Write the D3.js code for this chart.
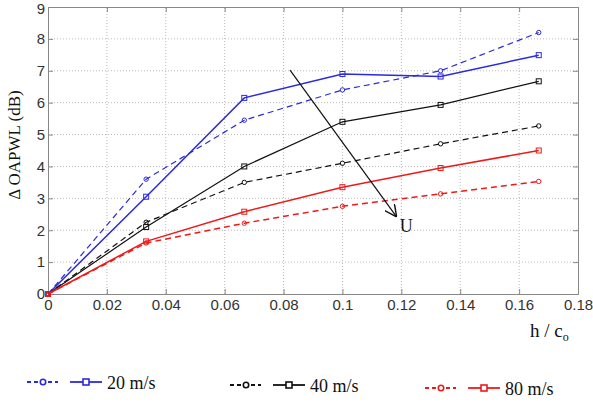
<!DOCTYPE html>
<html>
<head>
<meta charset="utf-8">
<script src="https://cdn.jsdelivr.net/npm/d3@7"></script>
</head>
<body style="margin:0;background:#fff">
<div id="chart"></div>
<script>
const hc = [0, 1 / 30, 1 / 15, 0.1, 2 / 15, 1 / 6];

const u20dash = [0, 3.6, 5.45, 6.4, 7.0, 8.2];
const u20solid = [0, 3.05, 6.15, 6.9, 6.82, 7.49];
const u40dash = [0, 2.25, 3.5, 4.1, 4.71, 5.27];
const u40solid = [0, 2.1, 4.0, 5.4, 5.93, 6.67];
const u80dash = [0, 1.6, 2.22, 2.75, 3.14, 3.53];
const u80solid = [0, 1.65, 2.58, 3.35, 3.95, 4.5];

const xTicks = [0, 0.02, 0.04, 0.06, 0.08, 0.1, 0.12, 0.14, 0.16, 0.18];
const yTicks = [0, 1, 2, 3, 4, 5, 6, 7, 8, 9];

const legendLabels = ["20 m/s", "40 m/s", "80 m/s"];

const SANS = "Liberation Sans";
const SERIF = "Liberation Serif";

const w = 593;
const h = 414;

const svg = d3
  .select("#chart")
  .append("svg")
  .attr("width", w)
  .attr("height", h)
  .style("display", "block");

const x = d3.scaleLinear([0, 0.18], [48, 578]);
const y = d3.scaleLinear([0, 9], [294, 7]);

// grid
svg
  .append("g")
  .selectAll("line")
  .data(xTicks.slice(1, -1))
  .enter()
  .append("line")
  .attr("x1", (d) => x(d))
  .attr("x2", (d) => x(d))
  .attr("y1", y(0))
  .attr("y2", y(9))
  .attr("stroke", "#bbb")
  .attr("stroke-dasharray", "1,2");

svg
  .append("g")
  .selectAll("line")
  .data(yTicks.slice(1, -1))
  .enter()
  .append("line")
  .attr("x1", x(0))
  .attr("x2", x(0.18))
  .attr("y1", (d) => y(d))
  .attr("y2", (d) => y(d))
  .attr("stroke", "#bbb")
  .attr("stroke-dasharray", "1,2");

// axes
const fmt = (d) => (d === 0 ? "0" : String(+d.toFixed(2)));

const gx = svg
  .append("g")
  .attr("transform", `translate(0,${y(0)})`)
  .call(d3.axisBottom(x).tickValues(xTicks).tickFormat(fmt).tickSize(-5).tickPadding(5));

const gy = svg
  .append("g")
  .attr("transform", `translate(${x(0)},0)`)
  .call(d3.axisLeft(y).tickValues(yTicks).tickSize(-5).tickPadding(3));

const gxTop = svg
  .append("g")
  .attr("transform", `translate(0,${y(9)})`)
  .call(d3.axisTop(x).tickValues(xTicks).tickFormat("").tickSize(-5));

const gyRight = svg
  .append("g")
  .attr("transform", `translate(${x(0.18)},0)`)
  .call(d3.axisRight(y).tickValues(yTicks).tickFormat("").tickSize(-5));

[gx, gy, gxTop, gyRight].forEach((g) => {
  g.attr("font-family", SANS).attr("font-size", 15);
  g.select(".domain").attr("stroke", "#888");
  g.selectAll(".tick line").attr("stroke", "#888");
  g.selectAll("text").attr("fill", "#333");
});
// keep the top label inside the page
gy.selectAll("text").filter((d) => d === 9).attr("dy", "0.42em");

// series
const series = [
  { vals: u20dash, color: "#2a2ae0", dash: "6,4", mark: "circle", w: 1.2 },
  { vals: u20solid, color: "#2a2ae0", dash: null, mark: "square", w: 1.5 },
  { vals: u40dash, color: "#111", dash: "6,4", mark: "circle", w: 1.2 },
  { vals: u40solid, color: "#111", dash: null, mark: "square", w: 1.2 },
  { vals: u80dash, color: "#ee1a1a", dash: "6,4", mark: "circle", w: 1.5 },
  { vals: u80solid, color: "#ee1a1a", dash: null, mark: "square", w: 1.5 }
];

const line = d3
  .line()
  .x((d, i) => x(hc[i]))
  .y((d) => y(d));

series.forEach((s) => {
  svg
    .append("path")
    .attr("d", line(s.vals))
    .attr("fill", "none")
    .attr("stroke", s.color)
    .attr("stroke-width", s.w)
    .attr("stroke-dasharray", s.dash);

  const g = svg.append("g");
  if (s.mark === "circle") {
    g.selectAll("circle")
      .data(s.vals)
      .enter()
      .append("circle")
      .attr("cx", (d, i) => x(hc[i]))
      .attr("cy", (d) => y(d))
      .attr("r", 2.2)
      .attr("fill", "none")
      .attr("stroke", s.color)
      .attr("stroke-width", 1);
  } else {
    g.selectAll("rect")
      .data(s.vals)
      .enter()
      .append("rect")
      .attr("x", (d, i) => x(hc[i]) - 2.5)
      .attr("y", (d) => y(d) - 2.5)
      .attr("width", 5)
      .attr("height", 5)
      .attr("fill", "none")
      .attr("stroke", s.color)
      .attr("stroke-width", 1);
  }
});

// arrow U
svg
  .append("defs")
  .append("marker")
  .attr("id", "arr")
  .attr("viewBox", "0 0 10 10")
  .attr("refX", 10)
  .attr("refY", 5)
  .attr("markerWidth", 12)
  .attr("markerHeight", 12)
  .attr("markerUnits", "userSpaceOnUse")
  .attr("orient", "auto")
  .append("path")
  .attr("d", "M0,0 L10,5 L0,10")
  .attr("fill", "none")
  .attr("stroke", "#111")
  .attr("stroke-width", 1.2);

svg
  .append("line")
  .attr("x1", x(0.0822))
  .attr("y1", y(7.02))
  .attr("x2", x(0.1184))
  .attr("y2", y(2.42))
  .attr("stroke", "#111")
  .attr("stroke-width", 1.2)
  .attr("marker-end", "url(#arr)");

svg
  .append("text")
  .attr("x", x(0.1195))
  .attr("y", y(1.94))
  .attr("font-family", SERIF)
  .attr("font-size", 18)
  .attr("fill", "#111")
  .text("U");

// axis labels
svg
  .append("text")
  .attr("transform", `translate(20,145) rotate(-90)`)
  .attr("text-anchor", "middle")
  .attr("font-family", SERIF)
  .attr("font-size", 17)
  .attr("fill", "#111")
  .text("Δ OAPWL (dB)");

const xl = svg
  .append("text")
  .attr("x", 530)
  .attr("y", 337)
  .attr("font-family", SERIF)
  .attr("font-size", 19)
  .attr("fill", "#111");
xl.append("tspan").text("h / c");
xl.append("tspan").attr("dy", 4).attr("font-size", 12).text("o");

// legend
const legendX = [27, 230, 425];
const legendY = [382, 385, 388];
const legendColors = ["#2a2ae0", "#111", "#ee1a1a"];

legendLabels.forEach((lab, k) => {
  const g = svg
    .append("g")
    .attr("transform", `translate(${legendX[k]},${legendY[k]})`);
  const c = legendColors[k];
  g.append("line")
    .attr("x1", 0)
    .attr("x2", 31)
    .attr("stroke", c)
    .attr("stroke-width", 1.8)
    .attr("stroke-dasharray", "4,3");
  g.append("circle")
    .attr("cx", 16)
    .attr("r", 2.7)
    .attr("fill", "#fff")
    .attr("stroke", c)
    .attr("stroke-width", 1.6);
  g.append("line")
    .attr("x1", 43)
    .attr("x2", 75)
    .attr("stroke", c)
    .attr("stroke-width", 1.8);
  g.append("rect")
    .attr("x", 56)
    .attr("y", -3)
    .attr("width", 6)
    .attr("height", 6)
    .attr("fill", "#fff")
    .attr("stroke", c)
    .attr("stroke-width", 1.6);
  g.append("text")
    .attr("x", 80)
    .attr("y", 7)
    .attr("font-family", SERIF)
    .attr("font-size", 18)
    .attr("fill", "#111")
    .text(lab);
});
</script>
</body>
</html>
